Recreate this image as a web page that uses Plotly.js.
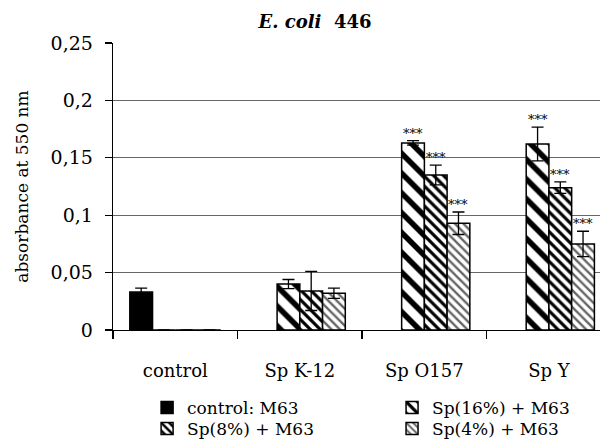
<!DOCTYPE html>
<html>
<head>
<meta charset="utf-8">
<script src="https://cdn.plot.ly/plotly-3.0.1.min.js"></script>
<style>body{margin:0;padding:0;background:#fff}#chart{width:600px;height:446px}</style>
</head>
<body>
<div id="chart"></div>
<script>
const categories = ['control', 'Sp K-12', 'Sp O157', 'Sp Y'];
const controlM63 = [0.033, null, null, null];
const controlErr = [0.0035, 0, 0, 0];
const sp16 = [0, 0.040, 0.163, 0.162];
const sp16Err = [0, 0.004, 0.002, 0.0147];
const sp8 = [0, 0.034, 0.135, 0.124];
const sp8Err = [0, 0.017, 0.0086, 0.005];
const sp4 = [0, 0.032, 0.093, 0.075];
const sp4Err = [0, 0.0045, 0.0098, 0.011];
const sig16 = ['', '', '***', '***'];
const sig8 = ['', '', '***', '***'];
const sig4 = ['', '', '***', '***'];
const seriesNames = ['control: M63', 'Sp(16%) + M63', 'Sp(8%) + M63', 'Sp(4%) + M63'];

const serif = 'DejaVu Serif';
const BARGAP = 0.27;
const errStyle = (arr) => ({type: 'data', array: arr, visible: true, color: '#000', thickness: 1.3, width: 6});
const line = {color: '#000', width: 1.5};

const traces = [
  {type: 'bar', name: seriesNames[0], x: categories, y: controlM63, error_y: errStyle(controlErr),
   marker: {color: '#000', line: line}, legend: 'legend', showlegend: true},
  {type: 'bar', name: seriesNames[1], x: categories, y: sp16, error_y: errStyle(sp16Err),
   marker: {color: '#fff', line: line, pattern: {shape: '\\', size: 14, solidity: 0.4, fgcolor: '#000', bgcolor: '#fff'}}, legend: 'legend2', showlegend: true},
  {type: 'bar', name: seriesNames[2], x: categories, y: sp8, error_y: errStyle(sp8Err),
   marker: {color: '#fff', line: line, pattern: {shape: '\\', size: 7, solidity: 0.45, fgcolor: '#000', bgcolor: '#fff'}}, legend: 'legend3', showlegend: true},
  {type: 'bar', name: seriesNames[3], x: categories, y: sp4, error_y: errStyle(sp4Err),
   marker: {color: '#fff', line: line, pattern: {shape: '\\', size: 6, solidity: 0.4, fgcolor: '#666', bgcolor: '#fff'}}, legend: 'legend4', showlegend: true}
];

const nSeries = 4;
const w = (1 - BARGAP) / nSeries;
const annotations = [];
[[sp16, sp16Err, sig16, 1], [sp8, sp8Err, sig8, 2], [sp4, sp4Err, sig4, 3]].forEach(([vals, errs, sig, idx]) => {
  vals.forEach((v, i) => {
    if (sig[i]) {
      annotations.push({
        x: i - (1 - BARGAP) / 2 + (idx + 0.5) * w, y: v + errs[i], xref: 'x', yref: 'y',
        text: sig[i], showarrow: false, yanchor: 'bottom', yshift: -2,
        font: {family: serif, size: 13, color: '#000'}
      });
    }
  });
});

const legendBase = {font: {family: serif, size: 17, color: '#000'}, bgcolor: 'rgba(0,0,0,0)',
  borderwidth: 0, xanchor: 'left', yanchor: 'middle', itemwidth: 30, orientation: 'v'};

const layout = {
  width: 600, height: 446, showlegend: true,
  margin: {l: 113, r: 0, t: 43, b: 116, autoexpand: false},
  paper_bgcolor: '#fff', plot_bgcolor: '#fff',
  separators: ',.',
  font: {family: serif, color: '#000'},
  barmode: 'group', bargap: BARGAP, bargroupgap: 0,
  title: {text: '<b><i>E. coli</i>  446</b>', font: {family: serif, size: 18, color: '#000'},
          x: 0.525, xanchor: 'center', y: 1 - 22 / 446, yref: 'container', yanchor: 'middle'},
  xaxis: {type: 'category', range: [-0.5, 3.41], showline: true, linecolor: '#000', linewidth: 1.3,
          ticks: 'outside', tickson: 'boundaries', ticklen: 8, tickcolor: '#000', tickwidth: 1.3,
          tickfont: {family: serif, size: 18, color: '#000'}, ticklabelstandoff: 24,
          showgrid: false, zeroline: false, fixedrange: true},
  yaxis: {range: [0, 0.25], dtick: 0.05, tick0: 0, showline: true, linecolor: '#000', linewidth: 1.3,
          ticks: 'outside', ticklen: 7, tickcolor: '#000', tickwidth: 1.3,
          tickfont: {family: serif, size: 19, color: '#000'}, ticklabelstandoff: 8,
          showgrid: true, gridcolor: '#666', gridwidth: 1, zeroline: false,
          title: {text: 'absorbance at 550 nm', font: {family: serif, size: 17, color: '#000'}, standoff: 17}},
  annotations: annotations,
  legend: Object.assign({}, legendBase, {x: 0.07, y: -0.272}),
  legend2: Object.assign({}, legendBase, {x: 0.573, y: -0.272}),
  legend3: Object.assign({}, legendBase, {x: 0.07, y: -0.345}),
  legend4: Object.assign({}, legendBase, {x: 0.573, y: -0.345})
};

Plotly.newPlot('chart', traces, layout, {displayModeBar: false, staticPlot: true});
</script>
</body>
</html>
